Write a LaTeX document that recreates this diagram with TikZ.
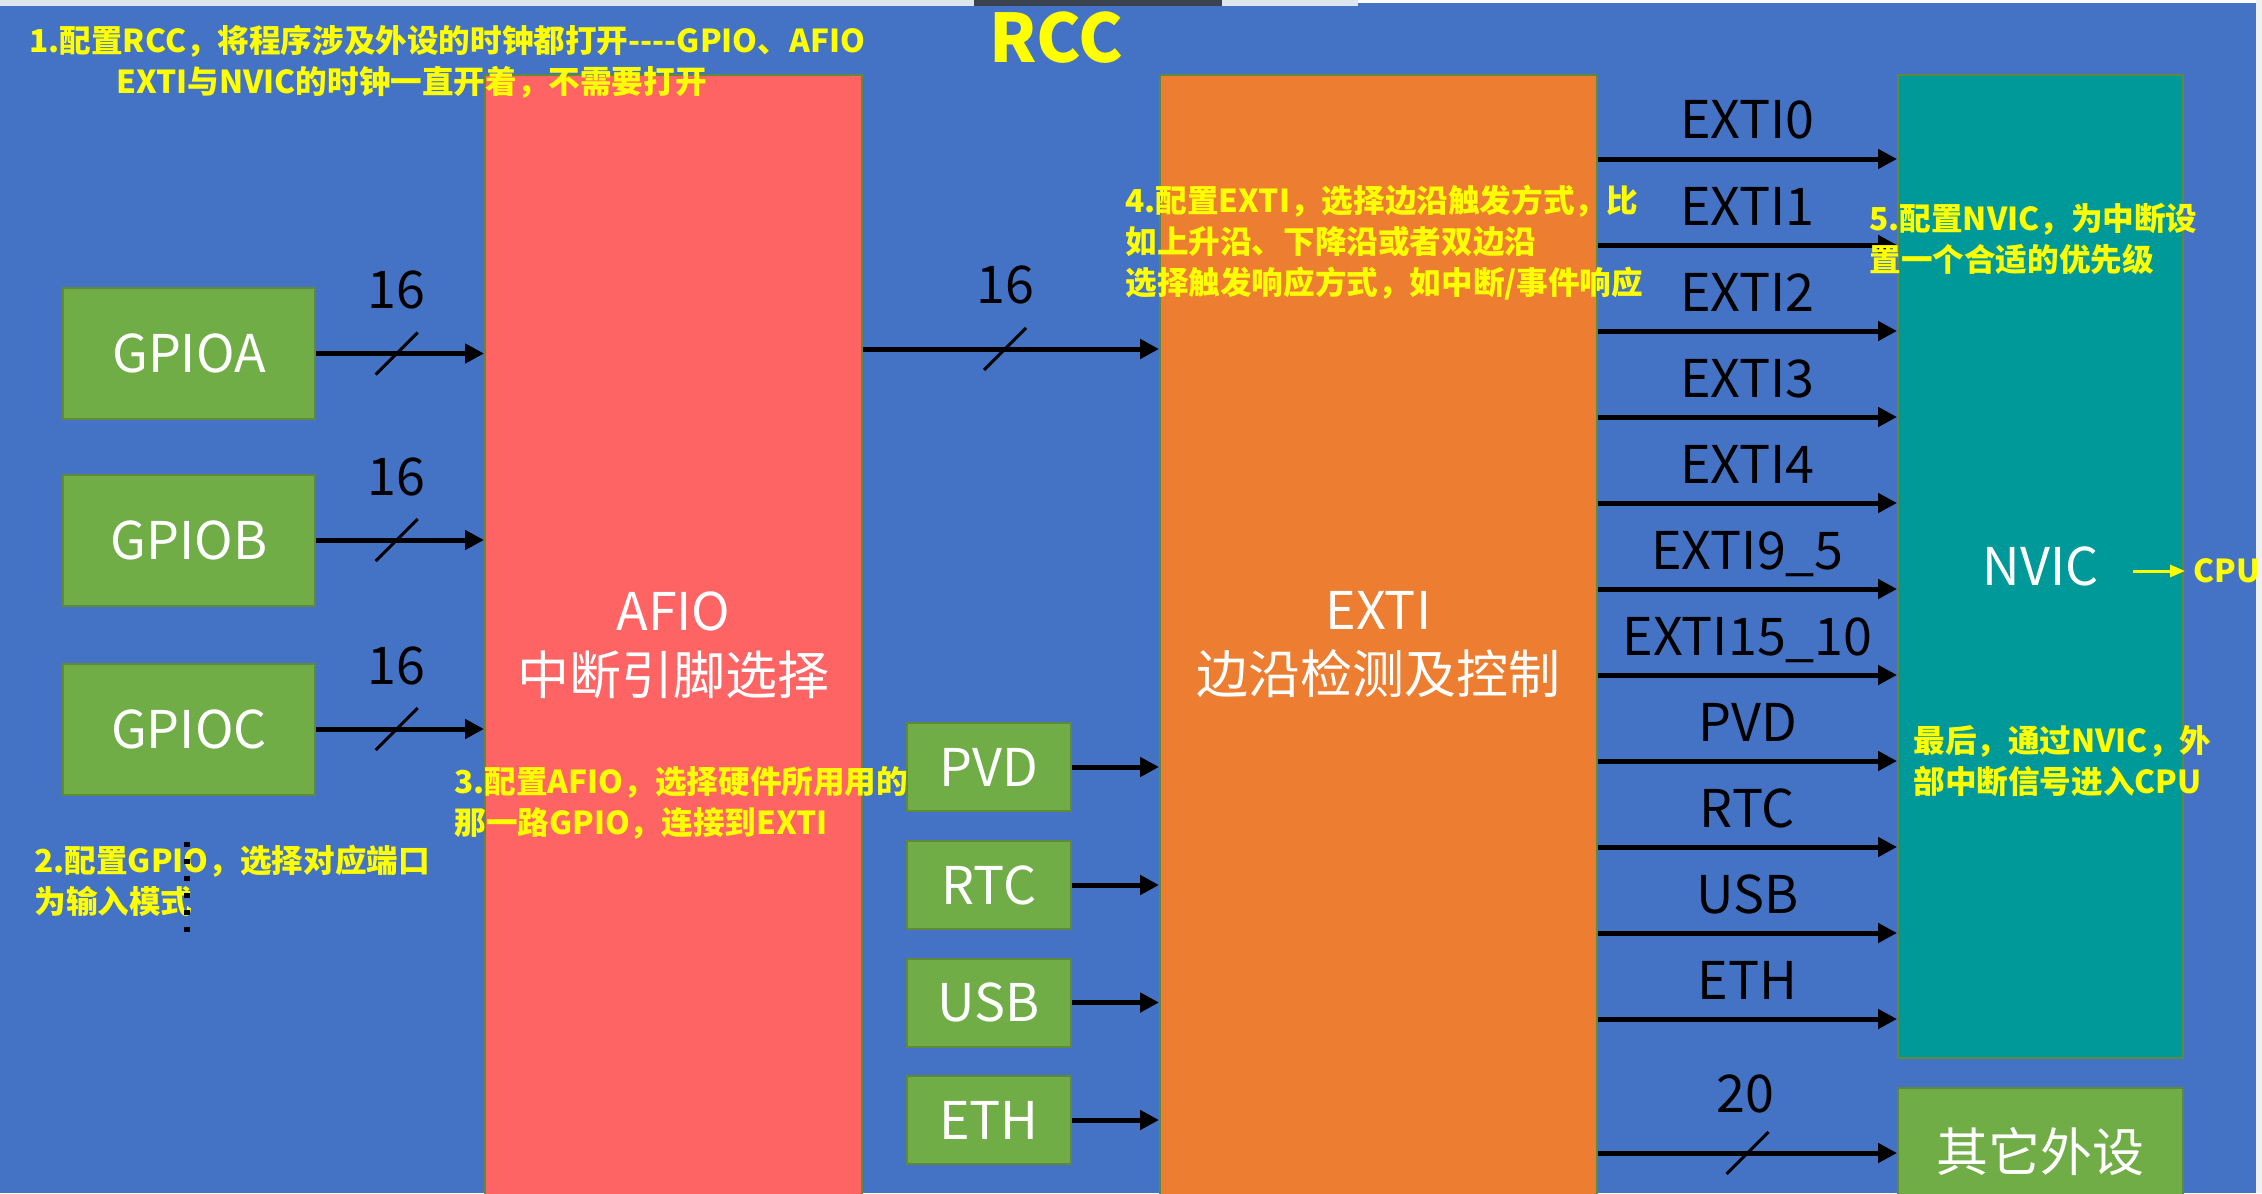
\documentclass[tikz,border=0pt]{standalone}
\usepackage{fontspec}
\setmainfont{Noto Sans CJK SC}
\usetikzlibrary{arrows.meta,calc}
\definecolor{bgblue}{HTML}{4472C4}
\definecolor{afiored}{HTML}{FF6464}
\definecolor{extiorange}{HTML}{ED7D31}
\definecolor{nvicteal}{HTML}{009999}
\definecolor{pgreen}{HTML}{70AD47}
\definecolor{boxline}{HTML}{5E8A3A}
\definecolor{annoyellow}{HTML}{FFFF00}
\definecolor{topstrip}{HTML}{DDE5EF}
\definecolor{darkbar}{HTML}{3B4250}
\newcommand\lblfont{\fontsize{26}{32}\selectfont}
\newcommand\annofont{\bfseries\fontsize{15.8}{20.5}\selectfont}
\tikzset{
  box/.style={draw=boxline, line width=1pt, inner sep=0pt, text=white, font=\lblfont, align=center},
  anno/.style={text=annoyellow, font=\annofont, align=left, inner sep=0pt, anchor=west},
  num/.style={font=\lblfont, text=black, inner sep=0pt, anchor=base},
  arr/.style={line width=2.5pt, -{Triangle[length=9.5pt,width=9.5pt]}},
  slashln/.style={line width=1.5pt},
  cpuarr/.style={draw=annoyellow, line width=1.5pt, -{Triangle[length=7.5pt,width=6pt]}, shorten >=4pt}
}
\begin{document}
\begin{tikzpicture}[x=0.5pt,y=-0.5pt]
\useasboundingbox (0,0) rectangle (2262,1193);
\clip (0,0) rectangle (2262,1193);
% background
\fill[bgblue] (0,0) rectangle (2262,1193);
\fill[topstrip] (0,0) rectangle (1358,6);
\fill[darkbar] (974,0) rectangle (1222,6);
\fill[white] (1358,0) rectangle (2262,3);
\fill[white!94!black] (2256,0) rectangle (2262,1193);

% main blocks
\node[box, fill=afiored, minimum width=188.5pt, minimum height=570pt] (afio) at (673.5,645) {AFIO\\中断引脚选择};
\node[box, fill=extiorange, minimum width=218.5pt, minimum height=570pt] (exti) at (1378.5,645) {EXTI\\边沿检测及控制};
\node[box, fill=nvicteal, minimum width=142.5pt, minimum height=491.5pt] (nvic) at (2040.5,566.5) {NVIC};
\node[box, fill=pgreen, minimum width=142.5pt, minimum height=63.5pt] (other) at (2040.5,1151.5) {其它外设};

% GPIO blocks
\node[box, fill=pgreen, minimum width=126pt, minimum height=65.5pt] (gpioa) at (189,353.5) {GPIOA};
\node[box, fill=pgreen, minimum width=126pt, minimum height=65.5pt] (gpiob) at (189,540) {GPIOB};
\node[box, fill=pgreen, minimum width=126pt, minimum height=65.5pt] (gpioc) at (189,729) {GPIOC};

% other sources
\node[box, fill=pgreen, minimum width=82pt, minimum height=44pt] (pvd) at (989,767) {PVD};
\node[box, fill=pgreen, minimum width=82pt, minimum height=44pt] (rtc) at (989,885) {RTC};
\node[box, fill=pgreen, minimum width=82pt, minimum height=44pt] (usb) at (989,1002.5) {USB};
\node[box, fill=pgreen, minimum width=82pt, minimum height=44pt] (eth) at (989,1120) {ETH};

% GPIO -> AFIO buses
\foreach \g/\k in {gpioa/a,gpiob/b,gpioc/c}{
  \draw[arr] (\g.east) -- coordinate[pos=0.48] (m\k) (\g.east -| afio.west);
  \draw[slashln] ($(m\k)+(-21,21)$) -- ($(m\k)+(21,-21)$);
  \node[num] (n\k) at ($(m\k)+(0,-45)$) {16};
}

% AFIO -> EXTI bus
\coordinate (ya) at (0,349);
\draw[arr] (afio.east |- ya) -- coordinate[pos=0.48] (md) (exti.west |- ya);
\draw[slashln] ($(md)+(-21,21)$) -- ($(md)+(21,-21)$);
\node[num] (nd) at ($(md)+(0,-46)$) {16};

% PVD etc -> EXTI
\foreach \s in {pvd,rtc,usb,eth}{
  \draw[arr] (\s.east) -- (\s.east -| exti.west);
}

% EXTI -> NVIC lines
\foreach \lab [count=\i from 0] in {EXTI0,EXTI1,EXTI2,EXTI3,EXTI4,EXTI9\_5,EXTI15\_10,PVD,RTC,USB,ETH}{
  \coordinate (ey\i) at (0,159+86*\i);
  \draw[arr] (exti.east |- ey\i) -- node[num, yshift=10pt] (el\i) {\lab} (nvic.west |- ey\i);
}

% EXTI -> other peripherals
\coordinate (yo) at (0,1153);
\draw[arr] (exti.east |- yo) -- coordinate[midway] (mo) (other.west |- yo);
\draw[slashln] ($(mo)+(-21,21)$) -- ($(mo)+(21,-21)$);
\node[num] (no) at ($(mo)+(-2,-41)$) {20};

% NVIC -> CPU
\node[anno] (cpu) at (2193,571) {CPU};
\coordinate (cpustart) at (2133,571);
\draw[cpuarr] (cpustart) -- (cpu.west);

% annotations
\node[text=annoyellow, font=\bfseries\fontsize{33.5}{40}\selectfont, inner sep=0pt] (rcc) at (1056,38) {RCC};
\node[anno] (n1a) at (29,41) {1.配置RCC，将程序涉及外设的时钟都打开-{}-{}-{}-GPIO、AFIO};
\node[anno] (n1b) at (116,82) {EXTI与NVIC的时钟一直开着，不需要打开};
\node[anno] (n2) at (34,880.5) {2.配置GPIO，选择对应端口\\为输入模式};
\node[anno] (n3) at (454,802.5) {3.配置AFIO，选择硬件所用用的\\那一路GPIO，连接到EXTI};
\node[anno] (n4) at (1125,242.5) {4.配置EXTI，选择边沿触发方式，比\\如上升沿、下降沿或者双边沿\\选择触发响应方式，如中断/事件响应};
\node[anno] (n5) at (1869,238.5) {5.配置NVIC，为中断设\\置一个合适的优先级};
\node[anno] (n6) at (1913,761) {最后，通过NVIC，外\\部中断信号进入CPU};

% vertical dots below GPIOC
\foreach \y in {844,861,878,895,912,929}{
  \fill[black] (184,\y-2.5) rectangle (190,\y+2.5);
}
\end{tikzpicture}
\end{document}
